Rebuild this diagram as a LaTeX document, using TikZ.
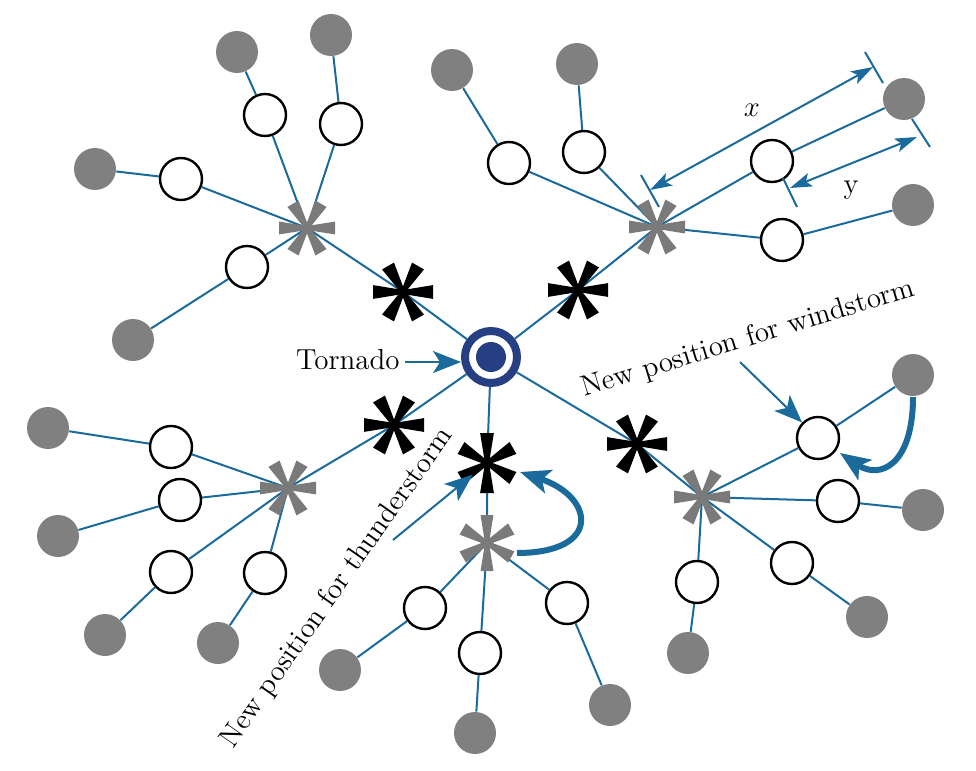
\documentclass[tikz,border=0pt]{standalone}
\usepackage{tikz}
\usetikzlibrary{arrows.meta}
\usetikzlibrary{calc}
\definecolor{linkblue}{RGB}{26,106,156}
\definecolor{tornblue}{RGB}{38,62,130}
\definecolor{dotgray}{RGB}{128,128,128}
\definecolor{stargray}{RGB}{122,122,122}
\tikzset{
link/.style = { draw = linkblue, line width = 1pt },
tip arrow/.style = { draw = linkblue, line width = 1pt, -{Stealth[length = 14pt, width = 11pt, inset = 3.5pt]} },
dim arrow/.style = { draw = linkblue, line width = 1pt, {Stealth[length = 11pt, width = 7pt, inset = 2.5pt]}-{Stealth[length = 11pt, width = 7pt, inset = 2.5pt]} },
move arrow/.style = { draw = linkblue, line width = 3pt, -{Stealth[length = 15pt, width = 12pt, inset = 3.5pt]} },
white node/.style = { circle, draw = black, fill = white, line width = 1.2pt, minimum size = 21pt, inner sep = 0pt },
gray node/.style = { circle, fill = dotgray, minimum size = 21pt, inner sep = 0pt },
hub/.style = { inner sep = 0pt, minimum size = 0pt },
lbl/.style = { font = \fontsize{14.5}{17}\selectfont, inner sep = 0pt },
}
\tikzset{
pics/ast/.style args={#1, #2, #3}{
        code = {
        \foreach \a in {0, 60, ..., 300} {
          \fill[#2, rotate = \a + #1] (0, -2) -- (#3, -0.23*#3) -- (#3, 0.23*#3) -- (0, 2) -- cycle;
        }
        }
    }
}
\begin{document}
\begin{tikzpicture}[x = 0.5pt, y = -0.5pt]
      \useasboundingbox (0, 0) rectangle (976, 771);
      % tornado and the hubs
      \node[circle, draw = tornblue, line width = 4pt, fill = white, minimum size = 26pt, inner sep = 0pt] (t0) at (491, 357) {};
      \node[circle, fill = tornblue, minimum size = 15pt, inner sep = 0pt] (t1) at (t0) {};
      \node[hub] (b1) at (403, 292) {};
      \node[hub] (b2) at (578, 290) {};
      \node[hub] (b3) at (394, 425) {};
      \node[hub] (b4) at (487, 463) {};
      \node[hub] (b5) at (637, 444) {};
      \node[hub] (g1) at (307, 228) {};
      \node[hub] (g2) at (657, 227) {};
      \node[hub] (g3) at (288, 488) {};
      \node[hub] (g4) at (487, 543) {};
      \node[hub] (g5) at (702, 497) {};
      % clusters
      \begin{scope}[every node/.style = {white node}]
        \node (w1a) at (265, 115) {};
        \node (w1b) at (341, 124) {};
        \node (w1c) at (181, 179) {};
        \node (w1d) at (247, 267) {};
        \node (w2a) at (509, 163) {};
        \node (w2b) at (584, 152) {};
        \node (w2c) at (772, 161) {};
        \node (w2d) at (782, 240) {};
        \node (w3a) at (171, 447) {};
        \node (w3b) at (180, 500) {};
        \node (w3c) at (171, 572) {};
        \node (w3d) at (265, 573) {};
        \node (w4a) at (425, 608) {};
        \node (w4b) at (480, 653) {};
        \node (w4c) at (567, 603) {};
        \node (w5a) at (818, 438) {};
        \node (w5b) at (838, 501) {};
        \node (w5c) at (792, 563) {};
        \node (w5d) at (697, 582) {};
      \end{scope}
      \begin{scope}[every node/.style = {gray node}]
        \node (d1a) at (237, 52) {};
        \node (d1b) at (331, 35) {};
        \node (d1c) at (95, 169) {};
        \node (d1d) at (133, 340) {};
        \node (d2a) at (452, 70) {};
        \node (d2b) at (577, 64) {};
        \node (d2c) at (904, 99) {};
        \node (d2d) at (913, 205) {};
        \node (d3a) at (48, 428) {};
        \node (d3b) at (58, 536) {};
        \node (d3c) at (105, 635) {};
        \node (d3d) at (218, 643) {};
        \node (d4a) at (340, 670) {};
        \node (d4b) at (475, 733) {};
        \node (d4c) at (610, 705) {};
        \node (d5a) at (913, 375) {};
        \node (d5b) at (923, 510) {};
        \node (d5c) at (867, 617) {};
        \node (d5d) at (688, 653) {};
      \end{scope}
      % links
      \foreach \i in {1, ..., 5} {
        \draw[link] (t0) -- (b\i) -- (g\i);
      }
      \foreach \i/\j in {1/a, 1/b, 1/c, 1/d, 2/a, 2/b, 2/c, 2/d, 3/a, 3/b, 3/c, 3/d, 4/a, 4/b, 4/c, 5/a, 5/b, 5/c, 5/d} {
        \draw[link] (g\i) -- (w\i\j) -- (d\i\j);
      }
      % asterisks
      \foreach \i/\r in {1/0, 2/0, 3/0, 4/90, 5/0} {
        \pic at (b\i) {ast = {\r, black, 30}};
        \pic at (g\i) {ast = {\r, stargray, 28}};
      }
      % tornado label
      \node[lbl, anchor = east] (torlbl) at (400, 360) {Tornado};
      \coordinate (torTail) at (405, 362);
      \draw[tip arrow] (torTail) -- (t0.west |- torTail);
      % distances x and y
      \coordinate (xA) at (650, 190);
      \coordinate (xB) at (873, 67);
      \coordinate (yA) at (790, 188);
      \coordinate (yB) at (917, 137);
      \draw[link] ($(xA) + (-9, -15)$) -- ($(xA) + (9, 17)$);
      \draw[link] ($(xB) + (-8, -15)$) -- ($(xB) + (10, 16)$);
      \draw[link] ($(yA) + (-7, -10)$) -- ($(yA) + (7, 19)$);
      \draw[link] ($(yB) + (-5, -18)$) -- ($(yB) + (13, 10)$);
      \draw[dim arrow] (xA) -- (xB);
      \draw[dim arrow] (yA) -- (yB);
      \node[lbl] (xlbl) at (752, 110) {$x$};
      \node[lbl] (ylbl) at (851, 190) {y};
      % new positions
      \node[lbl, rotate = 55] (thlbl) at (337, 588) {New position for thunderstorm};
      \coordinate (thTail) at (393, 540);
      \draw[tip arrow, shorten >= 9pt] (thTail) -- (b4);
      \coordinate (thFrom) at (517, 553);
      \coordinate (thTo) at (520, 472);
      \draw[move arrow] (thFrom) .. controls (602, 553) and (595, 497) .. (thTo);
      \node[lbl, rotate = 17] (wslbl) at (748, 339) {New position for windstorm};
      \coordinate (wsTail) at (740, 362);
      \draw[tip arrow] (wsTail) -- (w5a);
      \coordinate (wsFrom) at (913, 397);
      \coordinate (wsTo) at (840, 453);
      \draw[move arrow] (wsFrom) .. controls (913, 465) and (880, 480) .. (wsTo);
    \end{tikzpicture}
\end{document}
